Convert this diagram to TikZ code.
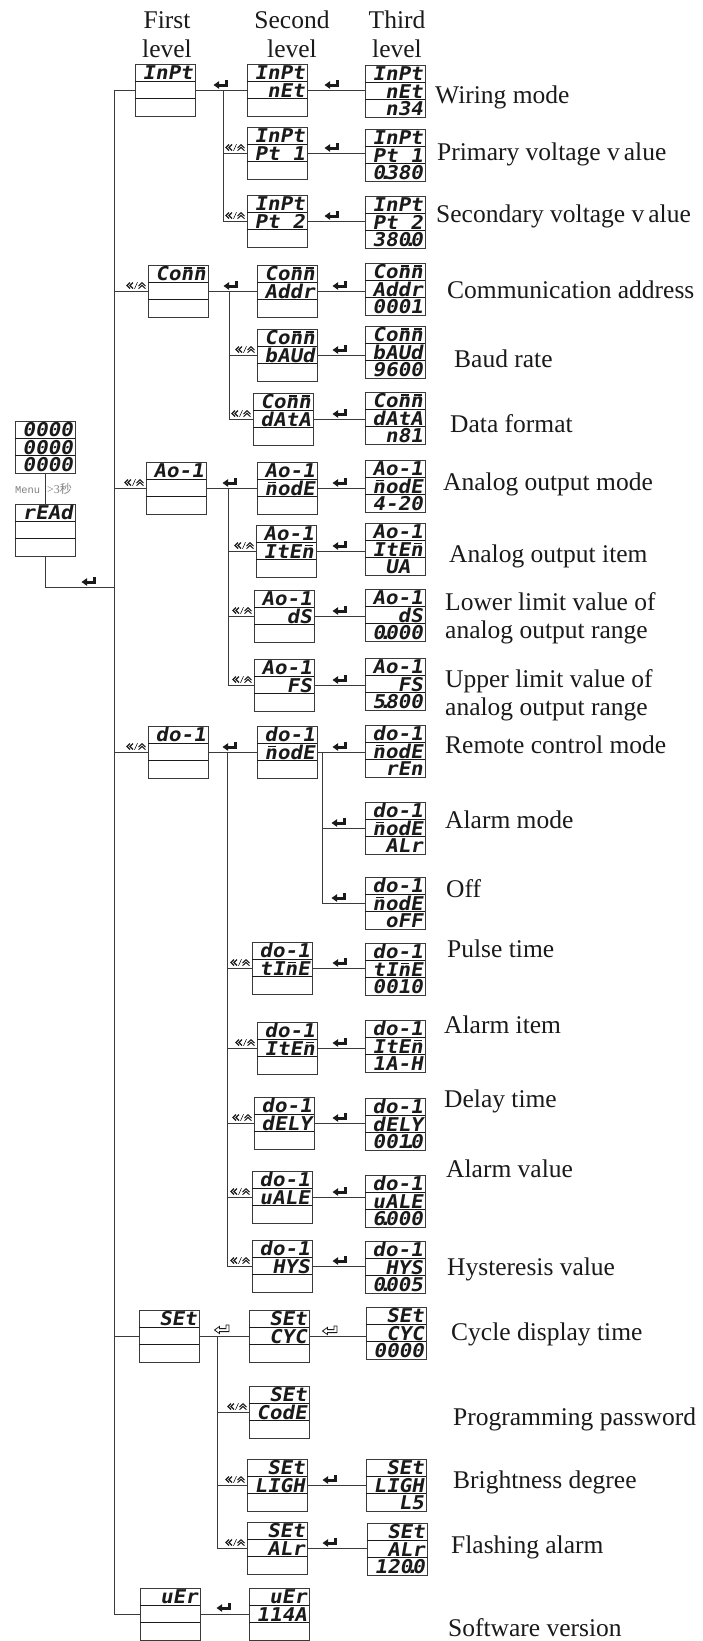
\documentclass[tikz,border=0pt]{standalone}
\usepackage{fontspec}
\setmainfont{Liberation Serif}
\newfontfamily\lcdfont{DejaVu Sans Mono}[UprightFont=* Bold, FakeSlant=0.18, FakeStretch=1.1]
\newfontfamily\menumono{Liberation Mono}
\newfontfamily\cjkfont{Noto Sans CJK SC}
\usetikzlibrary{calc}
\definecolor{ink}{HTML}{1A1A1A}
\definecolor{lc}{HTML}{3A3A3A}
\definecolor{menugray}{HTML}{808080}
\newcommand\bn{\makebox[0pt][l]{\kern0.2em\raisebox{0.62em}{\rule{0.42em}{0.1em}}}n}
\newcommand\pd{\makebox[0pt]{.}}
\newcommand\lcd[6]{%
  \node[lcdbox] (#1) at ({#2+30},#3) {};
  \draw[lcddiv] ([yshift=-17.33pt]#1.north west) -- ([yshift=-17.33pt]#1.north east);
  \draw[lcddiv] ([yshift=17.33pt]#1.south west) -- ([yshift=17.33pt]#1.south east);
  \node[lcdtxt] (#1-1) at ([xshift=-2pt,yshift=-15.9pt]#1.north east) {#4};
  \node[lcdtxt] (#1-2) at ([xshift=-2pt,yshift=18.8pt]#1.south east) {#5};
  \node[lcdtxt] (#1-3) at ([xshift=-2pt,yshift=1.5pt]#1.south east) {#6};
}
\tikzset{
  lcdbox/.style={draw=lc, line width=0.9pt, minimum width=60pt, minimum height=52pt, inner sep=0pt, outer sep=0pt},
  lcddiv/.style={draw=ink, line width=1.3pt},
  lcdtxt/.style={anchor=base east, inner sep=0pt, text=ink, font=\lcdfont\fontsize{19}{19}\selectfont},
  conn/.style={draw=lc, line width=0.9pt},
  lbl/.style={anchor=base west, inner sep=0pt, text=ink, font=\fontsize{25.5}{28}\selectfont},
  hdr/.style={anchor=base, inner sep=0pt, text=ink, font=\fontsize{25.5}{28}\selectfont},
  enterfill/.pic={
    \fill[ink] (-8.5,0) -- (-3,-3.8) -- (-3,3.8) -- cycle;
    \fill[ink] (-3.5,-1.5) rectangle (6,1.6);
    \fill[ink] (3,1.6) rectangle (6,-5);
  },
  enteropen/.pic={
    \draw[ink, line width=0.8pt, line join=miter] (-8.5,0) -- (-3.5,-3.6) -- (-3.5,-1.4) -- (3,-1.4) -- (3,-5) -- (6,-5) -- (6,1.6) -- (-3.5,1.6) -- (-3.5,3.6) -- cycle;
  },
  navkeys/.pic={
    \draw[ink, line width=1.1pt] (-17,-6.5) -- (-20,-3.5) -- (-17,-0.5) (-14,-6.5) -- (-17,-3.5) -- (-14,-0.5);
    \draw[ink, line width=0.6pt] (-12.5,-0.2) -- (-9.5,-6.8);
    \draw[ink, line width=1.0pt] (-8.5,-3) -- (-5,-6.3) -- (-1.5,-3) (-8.5,-0.3) -- (-5,-3.6) -- (-1.5,-0.3);
  },
}
\begin{document}
\begin{tikzpicture}[x=1pt,y=-1pt]
\fill[white] (0,0) rectangle (702,1641);
\useasboundingbox (0,0) rectangle (702,1641);

% headers
\node[hdr] (h1a) at (167,28) {First};
\node[hdr] (h1b) at (167,57) {level};
\node[hdr] (h2a) at (292,28) {Second};
\node[hdr] (h2b) at (292,57) {level};
\node[hdr] (h3a) at (397,28) {Third};
\node[hdr] (h3b) at (397,57) {level};

% reading displays
\lcd{R0}{15}{447}{0000}{0000}{0000}
\lcd{R1}{15}{530}{rEAd}{}{}
\node[anchor=base west, inner sep=0pt, text=menugray, font=\menumono\fontsize{10.4}{11}\selectfont] (menu) at (15,493) {Menu};
\node[anchor=base west, inner sep=0pt, text=menugray, font=\fontsize{12}{12}\selectfont] (sec) at (47,493) {>3{\cjkfont 秒}};

% first level
\lcd{L1a}{135}{90}{InPt}{}{}
\lcd{L1b}{148}{291}{Co\bn\bn}{}{}
\lcd{L1c}{146}{488}{Ao-1}{}{}
\lcd{L1d}{148}{752}{do-1}{}{}
\lcd{L1e}{139}{1336}{SEt}{}{}
\lcd{L1f}{140}{1614}{uEr}{}{}

% second level
\lcd{A1}{247}{90}{InPt}{nEt}{}
\lcd{A2}{247}{153}{InPt}{Pt 1}{}
\lcd{A3}{247}{221}{InPt}{Pt 2}{}
\lcd{B1}{257}{291}{Co\bn\bn}{Addr}{}
\lcd{B2}{257}{355}{Co\bn\bn}{bAUd}{}
\lcd{B3}{253}{419}{Co\bn\bn}{dAtA}{}
\lcd{C1}{257}{488}{Ao-1}{\bn odE}{}
\lcd{C2}{256}{551}{Ao-1}{ItE\bn}{}
\lcd{C3}{254}{616}{Ao-1}{dS}{}
\lcd{C4}{254}{685}{Ao-1}{FS}{}
\lcd{D1}{257}{752}{do-1}{\bn odE}{}
\lcd{D2}{252}{968}{do-1}{tI\bn E}{}
\lcd{D3}{257}{1048}{do-1}{ItE\bn}{}
\lcd{D4}{254}{1123}{do-1}{dELY}{}
\lcd{D5}{252}{1197}{do-1}{uALE}{}
\lcd{D6}{252}{1266}{do-1}{HYS}{}
\lcd{E1}{249}{1336}{SEt}{CYC}{}
\lcd{E2}{249}{1412}{SEt}{CodE}{}
\lcd{E3}{247}{1485}{SEt}{LIGH}{}
\lcd{E4}{247}{1548}{SEt}{ALr}{}
\lcd{F1}{249}{1614}{uEr}{114A}{}

% third level
\lcd{A1t}{365}{91}{InPt}{nEt}{n34}
\lcd{A2t}{365}{155}{InPt}{Pt 1}{0\pd380}
\lcd{A3t}{365}{222}{InPt}{Pt 2}{380\pd0}
\lcd{B1t}{365}{289}{Co\bn\bn}{Addr}{0001}
\lcd{B2t}{365}{352}{Co\bn\bn}{bAUd}{9600}
\lcd{B3t}{365}{418}{Co\bn\bn}{dAtA}{n81}
\lcd{C1t}{365}{486}{Ao-1}{\bn odE}{4-20}
\lcd{C2t}{365}{549}{Ao-1}{ItE\bn}{UA\hphantom{0}}
\lcd{C3t}{365}{615}{Ao-1}{dS}{0\pd000}
\lcd{C4t}{365}{684}{Ao-1}{FS}{5\pd800}
\lcd{D1t}{365}{751}{do-1}{\bn odE}{rEn}
\lcd{D1u}{365}{828}{do-1}{\bn odE}{ALr}
\lcd{D1v}{365}{903}{do-1}{\bn odE}{oFF}
\lcd{D2t}{365}{969}{do-1}{tI\bn E}{0010}
\lcd{D3t}{365}{1046}{do-1}{ItE\bn}{1A-H}
\lcd{D4t}{365}{1124}{do-1}{dELY}{001\pd0}
\lcd{D5t}{365}{1201}{do-1}{uALE}{6\pd000}
\lcd{D6t}{365}{1267}{do-1}{HYS}{0\pd005}
\lcd{E1t}{366}{1333}{SEt}{CYC}{0000}
\lcd{E3t}{366}{1485}{SEt}{LIGH}{L5}
\lcd{E4t}{367}{1549}{SEt}{ALr}{120\pd0}

% main trunk
\coordinate (M) at (114,90);
\coordinate (RJ) at (45,587);
\draw[conn] (R0.south) -- (R1.north);
\draw[conn] (R1.south) -- (R1.south |- RJ) -- (RJ -| M);
\draw[conn] (L1a.west) -- (M) -- (M |- L1f) -- (L1f.west);
\draw[conn] (M |- L1b) -- (L1b.west);
\draw[conn] (M |- L1c) -- (L1c.west);
\draw[conn] (M |- L1d) -- (L1d.west);
\draw[conn] (M |- L1e) -- (L1e.west);

% group A
\coordinate (ja) at (223,90);
\draw[conn] (L1a.east) -- (A1.west);
\draw[conn] (ja) -- (ja |- A3) -- (A3.west);
\draw[conn] (ja |- A2) -- (A2.west);
% group B
\coordinate (jb) at (229,291);
\draw[conn] (L1b.east) -- (B1.west);
\draw[conn] (jb) -- (jb |- B3) -- (B3.west);
\draw[conn] (jb |- B2) -- (B2.west);
% group C
\coordinate (jc) at (228,488);
\draw[conn] (L1c.east) -- (C1.west);
\draw[conn] (jc) -- (jc |- C4) -- (C4.west);
\draw[conn] (jc |- C2) -- (C2.west);
\draw[conn] (jc |- C3) -- (C3.west);
% group D
\coordinate (jd) at (227,752);
\draw[conn] (L1d.east) -- (D1.west);
\draw[conn] (jd) -- (jd |- D6) -- (D6.west);
\draw[conn] (jd |- D2) -- (D2.west);
\draw[conn] (jd |- D3) -- (D3.west);
\draw[conn] (jd |- D4) -- (D4.west);
\draw[conn] (jd |- D5) -- (D5.west);
% group E
\coordinate (je) at (217,1336);
\draw[conn] (L1e.east) -- (E1.west);
\draw[conn] (je) -- (je |- E4) -- (E4.west);
\draw[conn] (je |- E2) -- (E2.west);
\draw[conn] (je |- E3) -- (E3.west);
% group F
\draw[conn] (L1f.east) -- (F1.west);

% second to third
\draw[conn] (A1.east) -- (A1.east -| A1t.west);
\draw[conn] (A2.east) -- (A2.east -| A2t.west);
\draw[conn] (A3.east) -- (A3.east -| A3t.west);
\draw[conn] (B1.east) -- (B1.east -| B1t.west);
\draw[conn] (B2.east) -- (B2.east -| B2t.west);
\draw[conn] (B3.east) -- (B3.east -| B3t.west);
\draw[conn] (C1.east) -- (C1.east -| C1t.west);
\draw[conn] (C2.east) -- (C2.east -| C2t.west);
\draw[conn] (C3.east) -- (C3.east -| C3t.west);
\draw[conn] (C4.east) -- (C4.east -| C4t.west);
\draw[conn] (D1.east) -- (D1.east -| D1t.west);
\coordinate (jd1) at (322,752);
\draw[conn] (jd1) -- (jd1 |- D1v) -- (D1v.west);
\draw[conn] (jd1 |- D1u) -- (D1u.west);
\draw[conn] (D2.east) -- (D2.east -| D2t.west);
\draw[conn] (D3.east) -- (D3.east -| D3t.west);
\draw[conn] (D4.east) -- (D4.east -| D4t.west);
\draw[conn] (D5.east) -- (D5.east -| D5t.west);
\draw[conn] (D6.east) -- (D6.east -| D6t.west);
\draw[conn] (E1.east) -- (E1.east -| E1t.west);
\draw[conn] (E3.east) -- (E3.east -| E3t.west);
\draw[conn] (E4.east) -- (E4.east -| E4t.west);

% enter arrows
\pic at (90,582) {enterfill};
\pic at (222,85) {enterfill};
\pic at (232,286) {enterfill};
\pic at (231,483) {enterfill};
\pic at (231,747) {enterfill};
\pic at (223,1330) {enteropen};
\pic at (225,1608) {enterfill};
\pic at (333,85) {enterfill};
\pic at (333,148) {enterfill};
\pic at (333,216) {enterfill};
\pic at (341,286) {enterfill};
\pic at (341,350) {enterfill};
\pic at (341,414) {enterfill};
\pic at (341,483) {enterfill};
\pic at (341,546) {enterfill};
\pic at (341,611) {enterfill};
\pic at (341,680) {enterfill};
\pic at (341,747) {enterfill};
\pic at (340,823) {enterfill};
\pic at (340,898) {enterfill};
\pic at (341,963) {enterfill};
\pic at (341,1043) {enterfill};
\pic at (341,1118) {enterfill};
\pic at (341,1192) {enterfill};
\pic at (341,1261) {enterfill};
\pic at (331,1331) {enteropen};
\pic at (331,1480) {enterfill};
\pic at (331,1543) {enterfill};

% navigation key symbols
\pic at ($(L1b.west)+(-1,-2)$) {navkeys};
\pic at ($(L1c.west)+(-1,-2)$) {navkeys};
\pic at ($(L1d.west)+(-1,-2)$) {navkeys};
\pic at ($(A2.west)+(-1,-2)$) {navkeys};
\pic at ($(A3.west)+(-1,-2)$) {navkeys};
\pic at ($(B2.west)+(-1,-2)$) {navkeys};
\pic at ($(B3.west)+(-1,-2)$) {navkeys};
\pic at ($(C2.west)+(-1,-2)$) {navkeys};
\pic at ($(C3.west)+(-1,-2)$) {navkeys};
\pic at ($(C4.west)+(-1,-2)$) {navkeys};
\pic at ($(D2.west)+(-1,-2)$) {navkeys};
\pic at ($(D3.west)+(-1,-2)$) {navkeys};
\pic at ($(D4.west)+(-1,-2)$) {navkeys};
\pic at ($(D5.west)+(-1,-2)$) {navkeys};
\pic at ($(D6.west)+(-1,-2)$) {navkeys};
\pic at ($(E2.west)+(-1,-2)$) {navkeys};
\pic at ($(E3.west)+(-1,-2)$) {navkeys};
\pic at ($(E4.west)+(-1,-2)$) {navkeys};

% descriptions
\node[lbl] (tA1) at (435,103) {Wiring mode};
\node[lbl] (tA2) at (437,160) {Primary voltage v\kern4pt alue};
\node[lbl] (tA3) at (436,222) {Secondary voltage v\kern4pt alue};
\node[lbl] (tB1) at (447,298) {Communication address};
\node[lbl] (tB2) at (454,367) {Baud rate};
\node[lbl] (tB3) at (450,432) {Data format};
\node[lbl] (tC1) at (443,490) {Analog output mode};
\node[lbl] (tC2) at (449,562) {Analog output item};
\node[lbl] (tC3a) at (445,610) {Lower limit value of};
\node[lbl] (tC3b) at (445,638) {analog output range};
\node[lbl] (tC4a) at (445,687) {Upper limit value of};
\node[lbl] (tC4b) at (445,715) {analog output range};
\node[lbl] (tD1) at (445,753) {Remote control mode};
\node[lbl] (tD1u) at (445,828) {Alarm mode};
\node[lbl] (tD1v) at (446,897) {Off};
\node[lbl] (tD2) at (447,957) {Pulse time};
\node[lbl] (tD3) at (444,1033) {Alarm item};
\node[lbl] (tD4) at (444,1107) {Delay time};
\node[lbl] (tD5) at (446,1177) {Alarm value};
\node[lbl] (tD6) at (447,1275) {Hysteresis value};
\node[lbl] (tE1) at (451,1340) {Cycle display time};
\node[lbl] (tE2) at (453,1425) {Programming password};
\node[lbl] (tE3) at (453,1488) {Brightness degree};
\node[lbl] (tE4) at (451,1553) {Flashing alarm};
\node[lbl] (tF1) at (448,1636) {Software version};
\end{tikzpicture}
\end{document}
